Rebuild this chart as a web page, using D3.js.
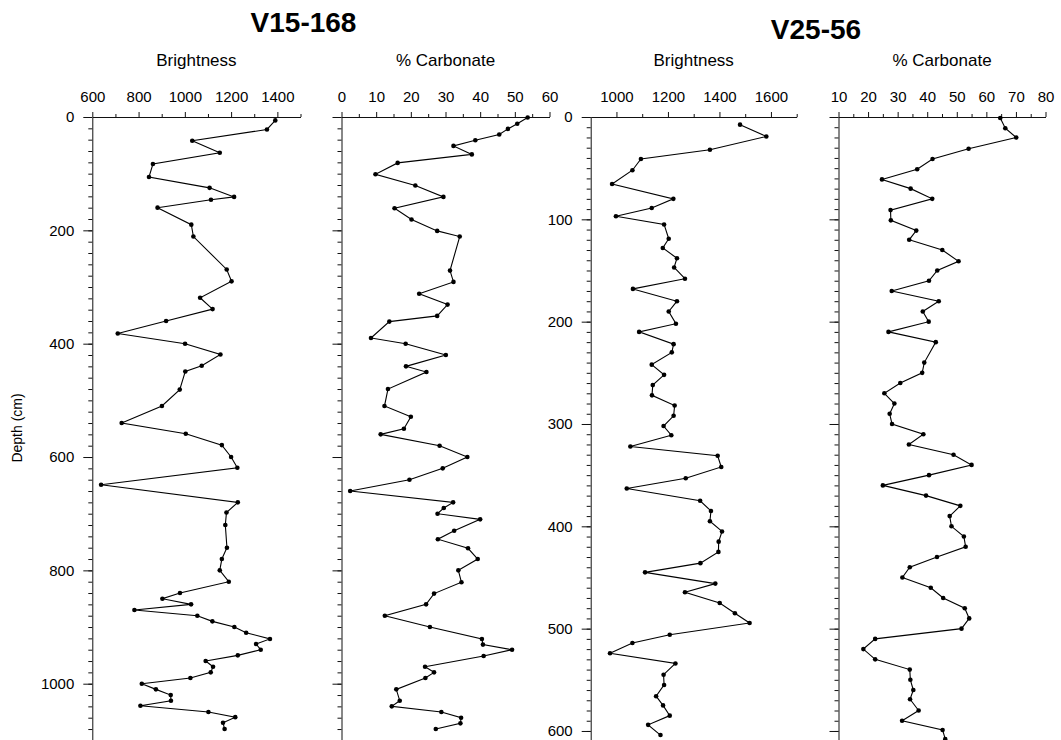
<!DOCTYPE html>
<html>
<head>
<meta charset="utf-8">
<script src="https://cdn.jsdelivr.net/npm/d3@7/dist/d3.min.js"></script>
<style>
  html, body { margin: 0; padding: 0; background: #fff; }
  svg { display: block; }
  text { font-family: "Liberation Sans", Arial, sans-serif; fill: #000; }
</style>
</head>
<body>
<svg id="chart" width="1061" height="740"></svg>
<script>
// ---- Core V15-168: brightness vs depth (cm)
const v15BrightDepth = [6, 22, 42, 63, 83, 106, 125, 141, 146, 160, 190, 211, 269, 290, 319, 339, 360, 382, 400, 419,
  439, 449, 481, 510, 540, 559, 579, 600, 619, 649, 680, 698, 720, 760, 780, 800, 820, 840, 850, 860,
  870, 880, 890, 900, 910, 921, 930, 940, 950, 960, 970, 980, 990, 1000, 1010, 1020, 1030, 1039, 1050, 1059,
  1069, 1080];
const v15Brightness = [1391, 1355, 1032, 1151, 862, 845, 1107, 1213, 1113, 882, 1028, 1037, 1181, 1202, 1066, 1120, 919, 710, 1001, 1154,
  1073, 1002, 978, 901, 727, 1004, 1160, 1200, 1227, 638, 1229, 1180, 1175, 1182, 1160, 1151, 1190, 979, 903, 1027,
  782, 1054, 1119, 1214, 1265, 1368, 1308, 1328, 1229, 1090, 1122, 1112, 1024, 814, 875, 939, 940, 808, 1102, 1218,
  1165, 1172];

// ---- Core V15-168: % carbonate vs depth (cm)
const v15CarbDepth = [1, 12, 21, 31, 41, 51, 66, 81, 101, 121, 141, 161, 181, 201, 211, 271, 291, 312, 331, 351,
  361, 390, 400, 420, 440, 450, 480, 510, 529, 550, 560, 580, 600, 620, 640, 660, 680, 690, 700, 710,
  730, 745, 761, 780, 800, 821, 841, 860, 880, 900, 921, 931, 940, 951, 970, 980, 990, 1010, 1030, 1040,
  1050, 1060, 1070, 1080];
const v15Carbonate = [53.7, 50.7, 48.0, 45.5, 38.6, 32.3, 37.6, 16.2, 9.8, 21.3, 29.4, 15.3, 20.2, 27.6, 34.1, 31.3, 32.3, 22.4, 30.6, 27.6,
  13.8, 8.5, 18.5, 30.1, 18.6, 24.5, 13.4, 12.4, 20.0, 18.0, 11.3, 28.3, 36.3, 29.2, 19.6, 2.5, 32.2, 29.5, 27.7, 40.0,
  32.5, 27.8, 36.5, 39.3, 33.7, 34.6, 26.7, 24.4, 12.5, 25.5, 40.5, 40.8, 49.2, 41.0, 24.1, 26.7, 24.2, 15.8, 16.8, 14.5,
  28.8, 34.5, 34.3, 27.2];

// ---- Core V25-56: brightness vs depth (cm)
const v25BrightDepth = [7.5, 19, 32, 41, 52, 65.5, 80, 89, 97, 105, 119, 128, 138, 147, 158, 168, 180, 190, 202, 210,
  222, 230, 242, 252, 262, 272, 282, 292, 302, 311, 322, 331, 342, 353, 363, 375, 385, 395, 405, 415,
  425, 436, 445, 456, 464.5, 475, 485, 494.5, 506, 514, 524, 534, 545, 555, 566, 575, 585, 594, 604];
const v25Brightness = [1480, 1582, 1363, 1095, 1062, 983, 1221, 1137, 998, 1185, 1203, 1180, 1235, 1224, 1266, 1064, 1235, 1203, 1231, 1088,
  1222, 1215, 1137, 1185, 1141, 1138, 1226, 1222, 1183, 1213, 1054, 1393, 1407, 1269, 1040, 1325, 1367, 1363, 1410, 1397,
  1396, 1326, 1111, 1384, 1266, 1401, 1460, 1517, 1207, 1062, 975, 1229, 1183, 1185, 1154, 1181, 1207, 1123, 1171];

// ---- Core V25-56: % carbonate vs depth (cm)
const v25CarbDepth = [1, 11, 20, 31, 41, 51, 61, 70, 80, 91, 101, 111, 120, 130, 141, 150, 160, 170, 180, 190,
  200, 210, 220, 240, 250, 260, 270, 280, 290, 300, 310, 320, 330, 340, 350, 360, 370, 380, 390, 400,
  410, 420, 430, 440, 450, 460, 470, 480, 490, 500, 510, 520, 530, 540, 550, 560, 569, 580, 590, 599, 608];
const v25Carbonate = [64.7, 66.4, 70.1, 54.0, 41.8, 36.6, 24.7, 34.4, 41.7, 27.6, 27.7, 36.3, 33.9, 45.1, 50.6, 43.4, 40.6, 28.0, 43.9, 38.5,
  40.5, 26.9, 42.9, 39.0, 38.3, 30.9, 25.5, 28.9, 27.3, 28.1, 38.7, 33.8, 48.9, 55.0, 40.6, 25.0, 39.6, 51.2, 47.6, 48.2,
  52.4, 53.0, 43.3, 34.1, 31.6, 41.2, 45.4, 52.7, 54.2, 51.6, 22.4, 18.4, 22.4, 34.1, 34.3, 35.3, 34.2, 37.1, 31.5, 45.2, 46.1];

// ---- Axis tick values
const brightTicksV15 = [600, 800, 1000, 1200, 1400];
const brightMinorV15 = [700, 900, 1100, 1300, 1500];
const carbTicksV15 = [0, 10, 20, 30, 40, 50, 60];
const carbMinorV15 = [5, 15, 25, 35, 45, 55];
const brightTicksV25 = [1000, 1200, 1400, 1600];
const brightMinorV25 = [1100, 1300, 1500, 1700];
const carbTicksV25 = [10, 20, 30, 40, 50, 60, 70, 80];
const carbMinorV25 = [15, 25, 35, 45, 55, 65, 75];
const depthTicksV15 = [0, 200, 400, 600, 800, 1000];
const depthTicksV25 = [0, 100, 200, 300, 400, 500, 600];

const svg = d3.select("#chart");
const TOP = 117;
const FONT = "'Liberation Sans', Arial, sans-serif";

function panel(opts) {
  const x = d3.scaleLinear().domain(opts.xDomain).range(opts.xRange);
  const y = d3.scaleLinear().domain(opts.yDomain).range([TOP, opts.yBottom]);
  const g = svg.append("g");

  // minor depth ticks
  g.append("g")
    .attr("transform", `translate(${opts.xRange[0]},0)`)
    .call(d3.axisLeft(y).tickValues(d3.range(0, opts.yDomain[1] + 1, opts.depthMinor)).tickSize(4).tickSizeOuter(0).tickFormat(""))
    .call(a => a.select(".domain").remove());

  // major depth ticks (+ labels on the first panel of each core)
  const yAxis = g.append("g")
    .attr("transform", `translate(${opts.xRange[0]},0)`)
    .call(d3.axisLeft(y).tickValues(opts.depthTicks).tickSize(9).tickSizeOuter(0).tickPadding(9)
      .tickFormat(opts.depthLabels ? d3.format("d") : ""));
  yAxis.selectAll("text").attr("font-size", 15).attr("font-family", FONT).attr("fill", "#000");

  // minor value ticks
  g.append("g")
    .attr("transform", `translate(0,${TOP})`)
    .call(d3.axisTop(x).tickValues(opts.xMinor).tickSize(3).tickSizeOuter(0).tickFormat(""))
    .call(a => a.select(".domain").remove());

  // major value ticks with labels
  const xAxis = g.append("g")
    .attr("transform", `translate(0,${TOP})`)
    .call(d3.axisTop(x).tickValues(opts.xTicks).tickSize(5).tickSizeOuter(0).tickPadding(10).tickFormat(d3.format("d")));
  xAxis.selectAll("text").attr("font-size", 15).attr("font-family", FONT).attr("fill", "#000");

  g.selectAll(".domain, .tick line").attr("stroke", "#111").attr("stroke-width", 1);

  // variable name above the axis
  g.append("text")
    .attr("x", (opts.xRange[0] + opts.xRange[1]) / 2)
    .attr("y", 66)
    .attr("text-anchor", "middle")
    .attr("font-size", 17)
    .text(opts.title);

  const pts = opts.depth.map((d, i) => ({ d, v: opts.values[i] }));

  g.append("path")
    .datum(pts)
    .attr("fill", "none")
    .attr("stroke", "#000")
    .attr("stroke-width", 1.1)
    .attr("d", d3.line().x(p => x(p.v)).y(p => y(p.d)));

  g.selectAll("circle.pt")
    .data(pts)
    .join("circle")
    .attr("class", "pt")
    .attr("cx", p => x(p.v))
    .attr("cy", p => y(p.d))
    .attr("r", 2.3)
    .attr("fill", "#000");
}

// V15-168 depth: 0..1100 cm over the panel height
panel({
  title: "Brightness", xDomain: [600, 1500], xRange: [92.3, 300.5],
  xTicks: brightTicksV15, xMinor: brightMinorV15,
  yDomain: [0, 1100], yBottom: TOP + 1100 * 0.5667,
  depthTicks: depthTicksV15, depthMinor: 20, depthLabels: true,
  depth: v15BrightDepth, values: v15Brightness
});
panel({
  title: "% Carbonate", xDomain: [0, 60], xRange: [341.5, 549.5],
  xTicks: carbTicksV15, xMinor: carbMinorV15,
  yDomain: [0, 1100], yBottom: TOP + 1100 * 0.5667,
  depthTicks: depthTicksV15, depthMinor: 20, depthLabels: false,
  depth: v15CarbDepth, values: v15Carbonate
});
// V25-56 depth: 0..610 cm
panel({
  title: "Brightness", xDomain: [900, 1700], xRange: [590.7, 796.7],
  xTicks: brightTicksV25, xMinor: brightMinorV25,
  yDomain: [0, 610], yBottom: TOP + 610 * 1.0233,
  depthTicks: depthTicksV25, depthMinor: 10, depthLabels: true,
  depth: v25BrightDepth, values: v25Brightness
});
panel({
  title: "% Carbonate", xDomain: [10, 80], xRange: [838.5, 1045.5],
  xTicks: carbTicksV25, xMinor: carbMinorV25,
  yDomain: [0, 610], yBottom: TOP + 610 * 1.0233,
  depthTicks: depthTicksV25, depthMinor: 10, depthLabels: false,
  depth: v25CarbDepth, values: v25Carbonate
});

// core names
svg.append("text").attr("x", 303.5).attr("y", 32).attr("text-anchor", "middle")
  .attr("font-size", 28).attr("font-weight", "bold").text("V15-168");
svg.append("text").attr("x", 816).attr("y", 38.5).attr("text-anchor", "middle")
  .attr("font-size", 28).attr("font-weight", "bold").text("V25-56");

// depth axis title
svg.append("text")
  .attr("transform", "translate(22,428) rotate(-90)")
  .attr("text-anchor", "middle")
  .attr("font-size", 14)
  .text("Depth (cm)");
</script>
</body>
</html>
